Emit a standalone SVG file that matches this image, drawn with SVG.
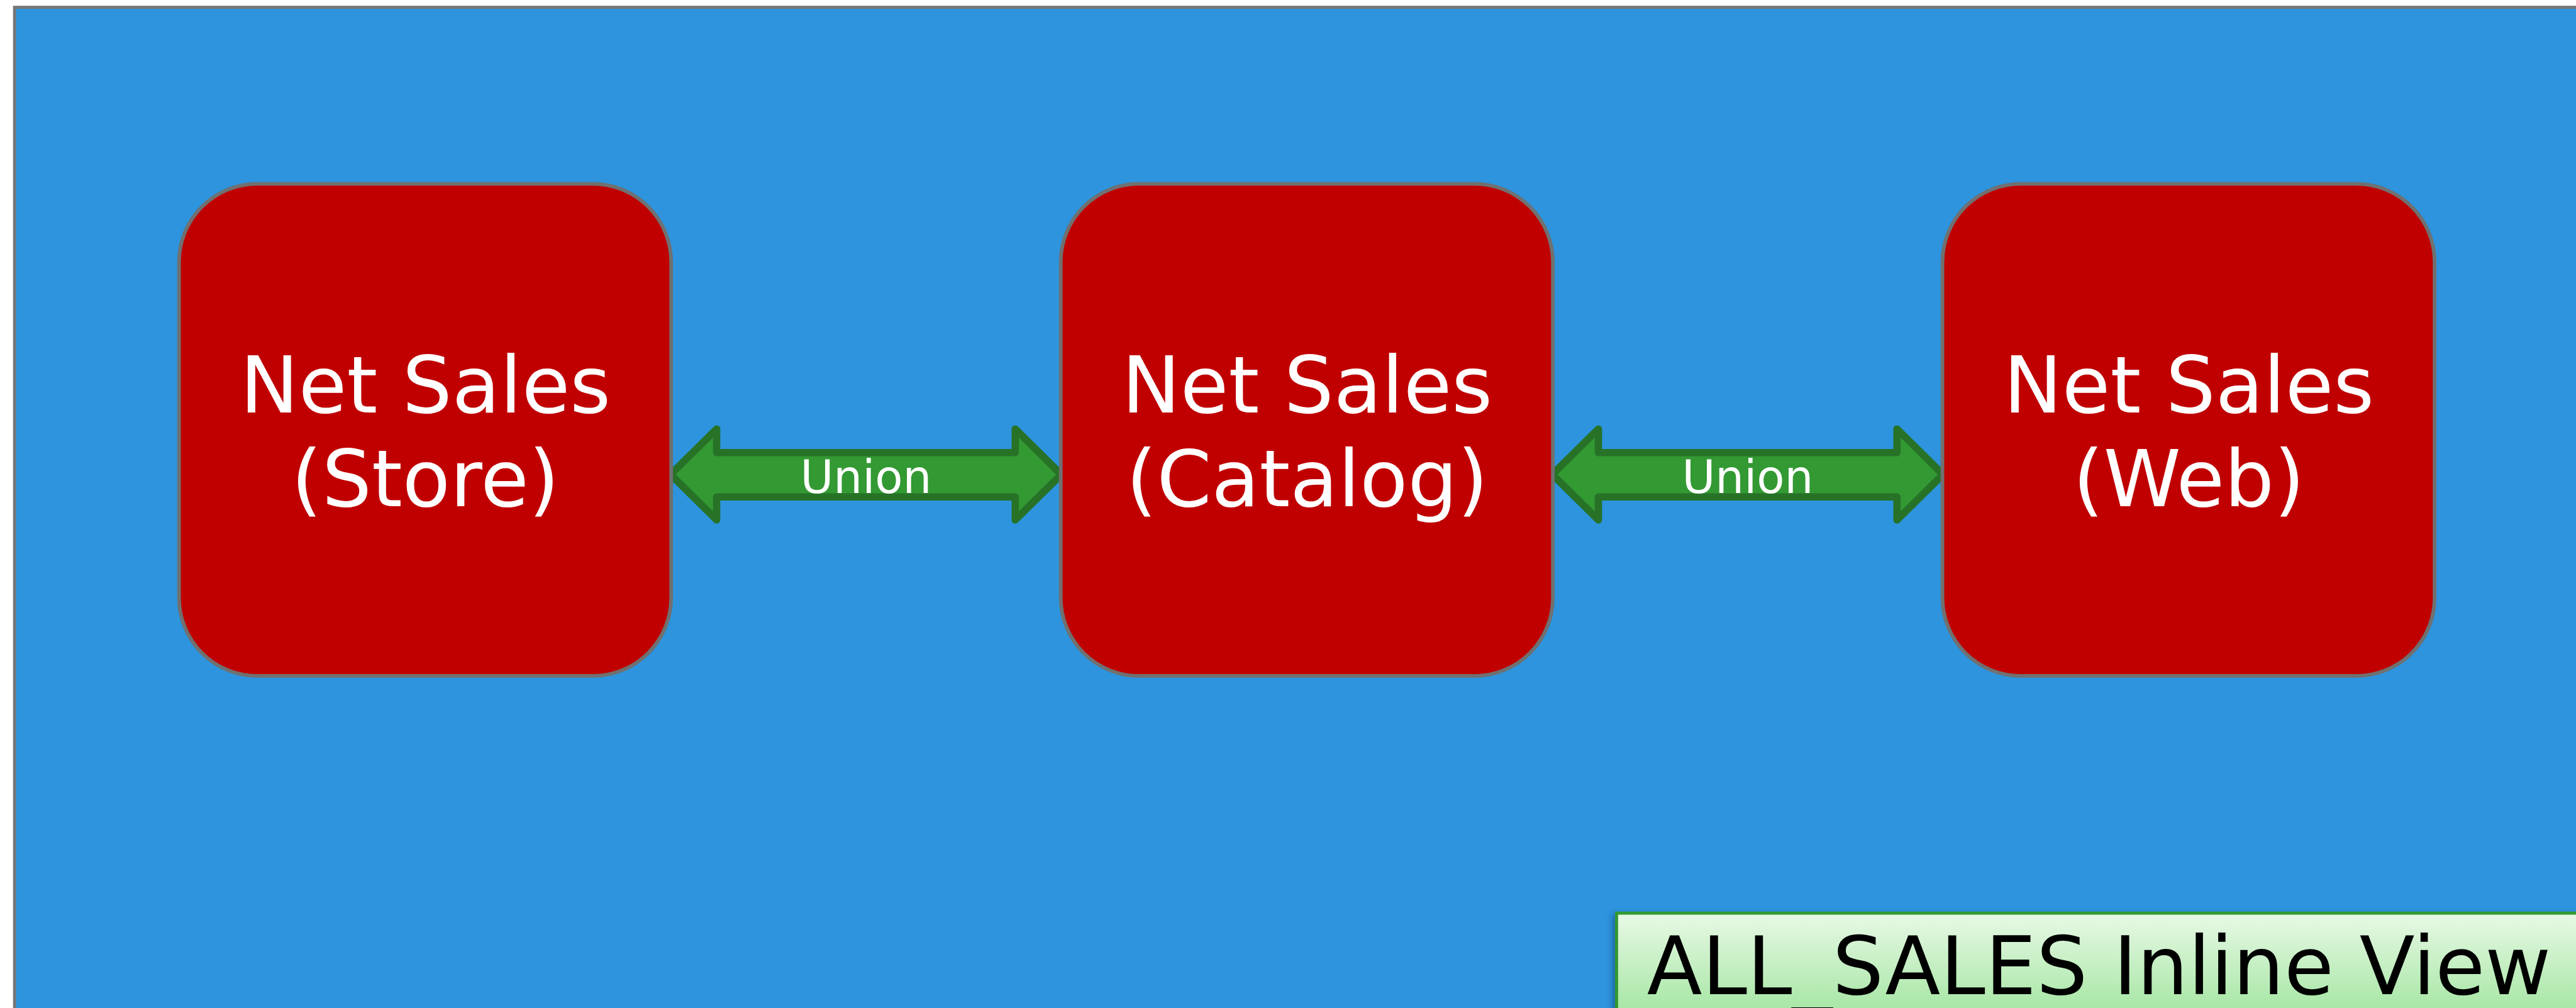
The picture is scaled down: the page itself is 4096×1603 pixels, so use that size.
<svg xmlns="http://www.w3.org/2000/svg" width="4096" height="1603" viewBox="0 0 4096 1603">
  <defs>
    <linearGradient id="labelFill" gradientUnits="userSpaceOnUse" x1="0" y1="1505" x2="0" y2="1661">
      <stop offset="0" stop-color="#E8F9E6"/>
      <stop offset="1" stop-color="#A9E7A7"/>
    </linearGradient>
    <filter id="labelShadow" x="-5%" y="-20%" width="110%" height="140%">
      <feDropShadow dx="-4" dy="4" stdDeviation="5" flood-color="#0a2a4a" flood-opacity="0.45"/>
    </filter>
  </defs>
  <style>
    .frame { fill: #2D94DD; stroke: #767676; stroke-width: 5; }
    .node rect { fill: #C00000; stroke: #707070; stroke-width: 6; }
    .node text { font-family: "DejaVu Sans", Verdana, sans-serif; font-size: 129px; fill: #FFFFFF; text-anchor: middle; }
    .link path { fill: #339933; stroke: #277227; stroke-width: 12; stroke-linejoin: round; }
    .link text { font-family: "DejaVu Sans", Verdana, sans-serif; font-size: 75px; fill: #FFFFFF; text-anchor: middle; }
    .label rect { fill: url(#labelFill); stroke: #339933; stroke-width: 5; }
    .label text { font-family: "DejaVu Sans", Verdana, sans-serif; font-size: 133px; fill: #000000; }
  </style>
  <rect width="4096" height="1603" fill="#FFFFFF"/>
  <g transform="scale(0.9649)">
    <!-- view container -->
    <rect class="frame" x="24" y="12" width="4400" height="1800"/>

    <!-- union connectors -->
    <g id="connectors" class="link">
      <g id="union-store-catalog">
        <path d="M1105,782 L1181,707 L1181,746 L1673,746 L1673,707 L1749,782 L1673,857 L1673,819 L1181,819 L1181,857 Z"/>
        <text x="1427" y="813">Union</text>
      </g>
      <g id="union-catalog-web">
        <path d="M2558,782 L2634,707 L2634,746 L3126,746 L3126,707 L3202,782 L3126,857 L3126,819 L2634,819 L2634,857 Z"/>
        <text x="2880" y="813">Union</text>
      </g>
    </g>

    <!-- sales sources -->
    <g id="net-sales-store" class="node">
      <rect x="295" y="303" width="811" height="811" rx="129" ry="129"/>
      <text x="701" y="680">Net Sales</text>
      <text x="701" y="834">(Store)</text>
    </g>
    <g id="net-sales-catalog" class="node">
      <rect x="1748" y="303" width="811" height="811" rx="129" ry="129"/>
      <text x="2154" y="680">Net Sales</text>
      <text x="2154" y="834">(Catalog)</text>
    </g>
    <g id="net-sales-web" class="node">
      <rect x="3201" y="303" width="811" height="811" rx="129" ry="129"/>
      <text x="3607" y="680">Net Sales</text>
      <text x="3607" y="834">(Web)</text>
    </g>

    <!-- view caption -->
    <g id="all-sales-label" class="label">
      <rect x="2664" y="1505" width="1700" height="300" filter="url(#labelShadow)"/>
      <text x="2714" y="1638">ALL_SALES Inline View</text>
    </g>
  </g>
</svg>
